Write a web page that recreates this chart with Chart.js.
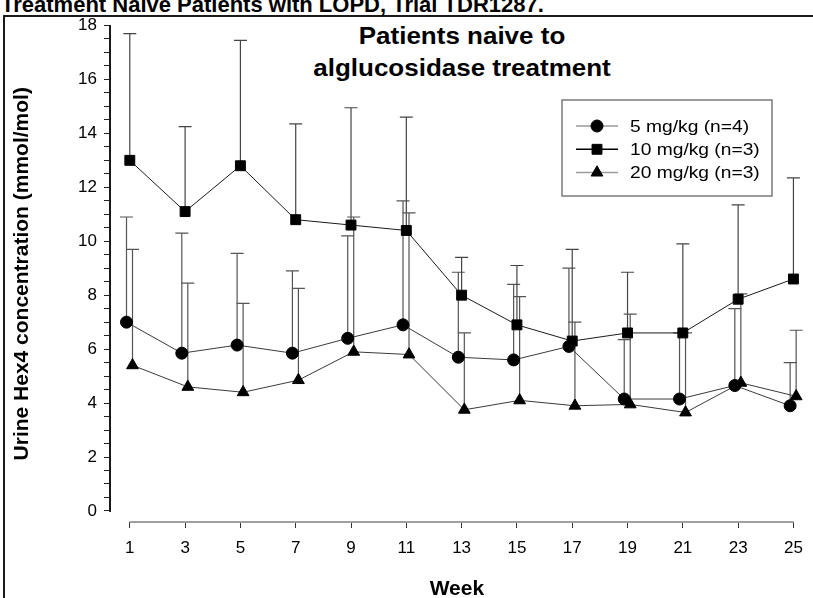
<!DOCTYPE html>
<html>
<head>
<meta charset="utf-8">
<script src="https://cdn.jsdelivr.net/npm/chart.js@4/dist/chart.umd.min.js"></script>
<style>
  html, body { margin: 0; padding: 0; background: #fff; overflow: hidden; }
  #wrap { position: relative; width: 813px; height: 598px; overflow: hidden;
          font-family: "Liberation Sans", Arial, sans-serif; color: #000; }
  #frame { position: absolute; left: 3px; top: 15px; width: 900px; height: 700px;
           border: 2px solid #1a1a1a; box-sizing: border-box; }
  #pageTitle { position: absolute; left: 1px; top: -6px; font-weight: bold; font-size: 22px;
               line-height: 22px; white-space: nowrap; }
  #chartTitle { position: absolute; left: 462px; top: 19.5px; font-weight: bold; font-size: 23px;
                line-height: 32px; text-align: center; white-space: nowrap;
                transform: translateX(-50%) scaleX(1.13); }
  canvas { position: absolute; left: 0; top: 0; }
</style>
</head>
<body>
<div id="wrap">
  <div id="frame"></div>
  <div id="pageTitle">Treatment Naive Patients with LOPD, Trial TDR1287.</div>
  <div id="chartTitle">Patients naive to<br>alglucosidase treatment</div>
  <canvas id="c" width="813" height="598"></canvas>
</div>
<script>
// Study weeks at which urine Hex4 was sampled
const weeks = [1, 3, 5, 7, 9, 11, 13, 15, 17, 19, 21, 23, 25];

// Mean urine Hex4 (mmol/mol) and standard deviation per dose group
const mean5mg  = [7.0, 5.85, 6.15, 5.85, 6.4, 6.9, 5.7, 5.6, 6.1, 4.15, 4.15, 4.65, 3.9];
const sd5mg    = [3.9, 4.45, 3.4, 3.05, 3.8, 4.6, 3.15, 2.8, 2.9, 2.2, 2.45, 2.85, 1.6];
const mean10mg = [13.0, 11.1, 12.8, 10.8, 10.6, 10.4, 8.0, 6.9, 6.3, 6.6, 6.6, 7.85, 8.6];
const sd10mg   = [4.7, 3.15, 4.65, 3.55, 4.35, 4.2, 1.4, 2.2, 3.4, 2.25, 3.3, 3.5, 3.75];
const mean20mg = [5.4, 4.6, 4.4, 4.85, 5.9, 5.8, 3.75, 4.1, 3.9, 3.95, 3.65, 4.75, 4.25];
const sd20mg   = [4.3, 3.85, 3.3, 3.4, 5.0, 5.25, 2.85, 3.85, 3.1, 3.35, 2.95, 3.3, 2.45];

const seriesNames = ['5 mg/kg (n=4)', '10 mg/kg (n=3)', '20 mg/kg (n=3)'];
const yTickLabels = [0, 2, 4, 6, 8, 10, 12, 14, 16, 18];
const yMinorStep = 0.5;

const toPoints = (means) => weeks.map((w, i) => ({ x: w, y: means[i] }));

Chart.defaults.font.family = '"Liberation Sans", Arial, sans-serif';
Chart.defaults.color = '#000';

// Small horizontal pixel shift per group so overlapping bars stay visible
const groupShift = {
  id: 'groupShift',
  afterDatasetsUpdate(chart) {
    chart.data.datasets.forEach((ds, i) => {
      const meta = chart.getDatasetMeta(i);
      meta.data.forEach(p => { p.x += ds.shiftX || 0; });
    });
  }
};

// Upper (mean + SD) error bars with caps
const errorBars = {
  id: 'errorBars',
  beforeDatasetsDraw(chart, args, opts) {
    const { ctx, scales: { y } } = chart;
    ctx.save();
    chart.data.datasets.forEach((ds, i) => {
      const meta = chart.getDatasetMeta(i);
      ctx.strokeStyle = ds.errorColor;
      ctx.lineWidth = opts.lineWidth;
      meta.data.forEach((p, j) => {
        const top = y.getPixelForValue(ds.data[j].y + ds.sd[j]);
        ctx.beginPath();
        ctx.moveTo(p.x, p.y);
        ctx.lineTo(p.x, top);
        ctx.moveTo(p.x - opts.capHalf, top);
        ctx.lineTo(p.x + opts.capHalf, top);
        ctx.stroke();
      });
    });
    ctx.restore();
  }
};

// Axis lines that span only the data range (offset axes)
const axisLines = {
  id: 'axisLines',
  afterDraw(chart) {
    const { ctx, chartArea, scales } = chart;
    const xs = scales.x, ys = scales.y;
    const yTop = ys.getPixelForValue(yTickLabels[yTickLabels.length - 1]);
    const yBottom = ys.getPixelForValue(yTickLabels[0]);
    ctx.save();
    ctx.fillStyle = '#1a1a1a';
    ctx.fillRect(chartArea.left - 2, yTop, 2, yBottom - yTop + 1);
    ctx.strokeStyle = '#a0a0a0';
    ctx.lineWidth = 2;
    ctx.beginPath();
    ctx.moveTo(xs.getPixelForValue(weeks[0]), chartArea.bottom);
    ctx.lineTo(xs.getPixelForValue(weeks[weeks.length - 1]), chartArea.bottom);
    ctx.stroke();
    ctx.restore();
  }
};

function marker(ctx, style, r, cx, cy) {
  if (Chart.helpers && Chart.helpers.drawPoint) {
    Chart.helpers.drawPoint(ctx, { pointStyle: style, radius: r, borderWidth: 1, rotation: 0 }, cx, cy);
    return;
  }
  ctx.beginPath();
  if (style === 'circle') ctx.arc(cx, cy, r, 0, Math.PI * 2);
  else if (style === 'rect') { const s = r * Math.SQRT1_2; ctx.rect(cx - s, cy - s, 2 * s, 2 * s); }
  else { ctx.moveTo(cx, cy - r); ctx.lineTo(cx + r * 0.866, cy + r / 2); ctx.lineTo(cx - r * 0.866, cy + r / 2); ctx.closePath(); }
  ctx.fill(); ctx.stroke();
}

// Boxed legend inside the plot, line-through-marker symbols
const boxedLegend = {
  id: 'boxedLegend',
  afterDraw(chart, args, o) {
    const ctx = chart.ctx;
    ctx.save();
    ctx.strokeStyle = '#7a7a7a';
    ctx.lineWidth = 1.5;
    ctx.strokeRect(o.left, o.top, o.width, o.height);
    chart.data.datasets.forEach((ds, i) => {
      const cy = o.top + o.firstRow + i * o.rowGap;
      ctx.strokeStyle = ds.legendLineColor;
      ctx.lineWidth = 1.5;
      ctx.beginPath();
      ctx.moveTo(o.lineX0, cy);
      ctx.lineTo(o.lineX1, cy);
      ctx.stroke();
      ctx.fillStyle = '#000';
      ctx.strokeStyle = '#000';
      ctx.lineWidth = 1;
      marker(ctx, ds.pointStyle, ds.pointRadius, (o.lineX0 + o.lineX1) / 2, cy);
      ctx.save();
      ctx.translate(o.textX, cy);
      ctx.scale(1.13, 1);
      ctx.font = '17px "Liberation Sans", Arial, sans-serif';
      ctx.textBaseline = 'middle';
      ctx.fillStyle = '#000';
      ctx.fillText(ds.label, 0, 1);
      ctx.restore();
    });
    ctx.restore();
  }
};

const common = {
  borderWidth: 1,
  pointBackgroundColor: '#000',
  pointBorderColor: '#000',
  pointBorderWidth: 1,
  tension: 0,
  clip: false
};

new Chart(document.getElementById('c'), {
  type: 'line',
  data: {
    datasets: [
      Object.assign({}, common, {
        label: seriesNames[0], data: toPoints(mean5mg), sd: sd5mg,
        pointStyle: 'circle', pointRadius: 6, borderColor: '#3a3a3a',
        legendLineColor: '#9a9a9a', errorColor: '#555', shiftX: -3.3
      }),
      Object.assign({}, common, {
        label: seriesNames[1], data: toPoints(mean10mg), sd: sd10mg,
        pointStyle: 'rect', pointRadius: 7, borderColor: '#1a1a1a',
        legendLineColor: '#000', errorColor: '#444', shiftX: 0
      }),
      Object.assign({}, common, {
        label: seriesNames[2], data: toPoints(mean20mg), sd: sd20mg,
        pointStyle: 'triangle', pointRadius: 6.8, borderColor: '#3a3a3a',
        legendLineColor: '#9a9a9a', errorColor: '#555', shiftX: 2.7
      })
    ]
  },
  options: {
    responsive: false,
    animation: false,
    events: [],
    layout: { padding: { top: 25.5, right: 7, left: 0, bottom: 0 } },
    scales: {
      x: {
        type: 'linear',
        bounds: 'data',
        min: 0.32,
        max: 25.34,
        afterFit: s => { s.height = 76; },
        afterBuildTicks: s => { s.ticks = weeks.map(v => ({ value: v })); },
        border: { display: false },
        grid: { display: true, drawOnChartArea: false, drawTicks: true, tickLength: 6,
                tickColor: '#333', tickWidth: 1 },
        ticks: { autoSkip: false, maxRotation: 0, padding: 10, font: { size: 17 },
                 callback: v => String(v) },
        title: { display: true, text: 'Week', font: { size: 21, weight: 'bold' },
                 padding: { top: 0, bottom: -4 } }
      },
      y: {
        type: 'linear',
        bounds: 'data',
        min: -0.41,
        max: 18,
        afterFit: s => { s.width = 111; },
        afterBuildTicks: s => {
          const t = [];
          const last = yTickLabels[yTickLabels.length - 1];
          for (let v = yTickLabels[0]; v <= last + 1e-9; v += yMinorStep) t.push({ value: v });
          s.ticks = t;
        },
        border: { display: false },
        grid: { display: true, drawOnChartArea: false, drawTicks: true, tickLength: 7,
                tickColor: '#222', tickWidth: 1 },
        ticks: { autoSkip: false, padding: 7, font: { size: 17 },
                 callback: v => (yTickLabels.includes(v) ? String(v) : '') },
        title: { display: true, text: 'Urine Hex4 concentration (mmol/mol)',
                 font: { size: 21, weight: 'bold' }, padding: { top: 10, bottom: 0 } }
      }
    },
    plugins: {
      legend: { display: false },
      tooltip: { enabled: false },
      errorBars: { lineWidth: 1.2, capHalf: 6.5 },
      boxedLegend: { left: 562, top: 100, width: 210, height: 96, firstRow: 26, rowGap: 23.3,
                     lineX0: 576, lineX1: 618, textX: 630 }
    }
  },
  plugins: [groupShift, errorBars, axisLines, boxedLegend]
});
</script>
</body>
</html>
